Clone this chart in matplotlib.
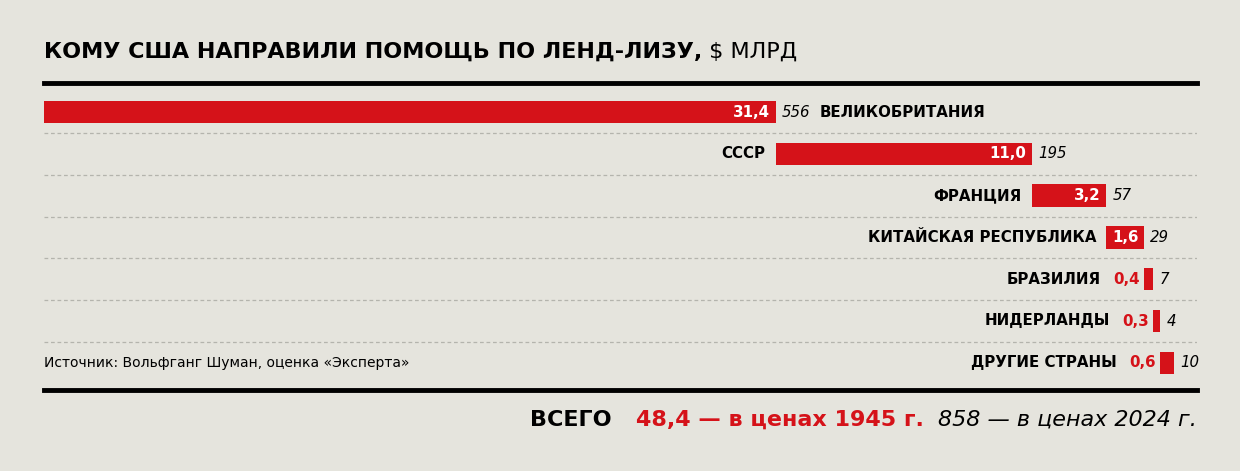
import numpy as np
import matplotlib.pyplot as plt

# data
countries = ["ВЕЛИКОБРИТАНИЯ", "СССР", "ФРАНЦИЯ", "КИТАЙСКАЯ РЕСПУБЛИКА",
             "БРАЗИЛИЯ", "НИДЕРЛАНДЫ", "ДРУГИЕ СТРАНЫ"]
prices_1945 = [31.4, 11.0, 3.2, 1.6, 0.4, 0.3, 0.6]
prices_2024 = [556, 195, 57, 29, 7, 4, 10]
total_1945 = 48.4
total_2024 = 858

title_bold = "КОМУ США НАПРАВИЛИ ПОМОЩЬ ПО ЛЕНД-ЛИЗУ,"
title_rest = " $ МЛРД"
source = "Источник: Вольфганг Шуман, оценка «Эксперта»"

BG = "#e5e4dd"
RED = "#d51219"
plt.rcParams["font.family"] = ["DejaVu Sans"]

W, H = 1240, 471
fig = plt.figure(figsize=(W / 100, H / 100), dpi=100, facecolor=BG)

top_px, bot_px = 83, 390
left_px, right_px = 44, 1197
px_per_unit = 23.3
row0_px, row_step = 112, 41.8

ax = fig.add_axes([left_px / W, 1 - bot_px / H, (right_px - left_px) / W, (bot_px - top_px) / H])
ax.set_facecolor(BG)
ax.set_xlim(0, (right_px - left_px) / px_per_unit)
ax.set_ylim((bot_px - row0_px) / row_step, (top_px - row0_px) / row_step)
ax.set_xticks([])
ax.set_yticks([])
for s in ["left", "right"]:
    ax.spines[s].set_visible(False)
for s in ["top", "bottom"]:
    ax.spines[s].set_linewidth(3.5)
    ax.spines[s].set_color("black")

rows = np.arange(len(countries))
vals = np.array(prices_1945)
lefts = np.concatenate([[0], np.cumsum(vals)[:-1]])

for i in range(len(countries) - 1):
    ax.axhline(i + 0.5, color="#b4b4ad", lw=0.9, ls=(0, (3, 2.2)), zorder=0)

ax.barh(rows, vals, left=lefts, height=0.54, color=RED, zorder=2)

fig.canvas.draw()
r = fig.canvas.get_renderer()

def fmt(v):
    return f"{v:.1f}".replace(".", ",")

lab_size = 10.8
for i, (name, v, l, n) in enumerate(zip(countries, vals, lefts, prices_2024)):
    end = l + v
    if v >= 1:
        ax.annotate(fmt(v), xy=(end, i), xytext=(-4, 0), textcoords="offset points",
                    ha="right", va="center", color="white", fontweight="bold",
                    fontsize=lab_size, zorder=3)
        off = -7.5
    else:
        red = ax.annotate(fmt(v), xy=(l, i), xytext=(-3, 0), textcoords="offset points",
                          ha="right", va="center", color=RED, fontweight="bold",
                          fontsize=lab_size, zorder=3)
        bb = red.get_window_extent(r)
        off = -(3 + bb.width * 72 / 100 + 9)
    num = ax.annotate(str(n), xy=(end, i), xytext=(4.5, 0), textcoords="offset points",
                      ha="left", va="center", style="italic", fontsize=lab_size, zorder=3)
    if i == 0:
        bb = num.get_window_extent(r)
        ax.annotate(name, xy=(end, i), xytext=(4.5 + bb.width * 72 / 100 + 7, 0),
                    textcoords="offset points", ha="left", va="center",
                    fontweight="bold", fontsize=lab_size)
    else:
        ax.annotate(name, xy=(l, i), xytext=(off, 0), textcoords="offset points",
                    ha="right", va="center", fontweight="bold", fontsize=lab_size)

ax.text(0, len(countries) - 1, source, ha="left", va="center", fontsize=10)

# title
t1 = fig.text(left_px / W, 1 - 58 / H, title_bold, ha="left", va="baseline",
              fontsize=16, fontweight="bold")
bb = t1.get_window_extent(r)
fig.text(bb.x1 / W, 1 - 58 / H, title_rest, ha="left", va="baseline",
         fontsize=16)

# totals
base = 1 - 426 / H
tot_size = 16
s2024 = f"{total_2024} — в ценах 2024 г."
s1945 = f"{fmt(total_1945)} — в ценах 1945 г."
t3 = fig.text(right_px / W, base, s2024, ha="right", va="baseline",
              fontsize=tot_size, style="italic")
bb3 = t3.get_window_extent(r)
t2 = fig.text((bb3.x0 - 14) / W, base, s1945, ha="right", va="baseline",
              fontsize=tot_size, fontweight="bold", color=RED)
bb2 = t2.get_window_extent(r)
fig.text((bb2.x0 - 25) / W, base, "ВСЕГО", ha="right", va="baseline",
         fontsize=tot_size, fontweight="bold")

fig.savefig("out.png", dpi=100, facecolor=BG)
